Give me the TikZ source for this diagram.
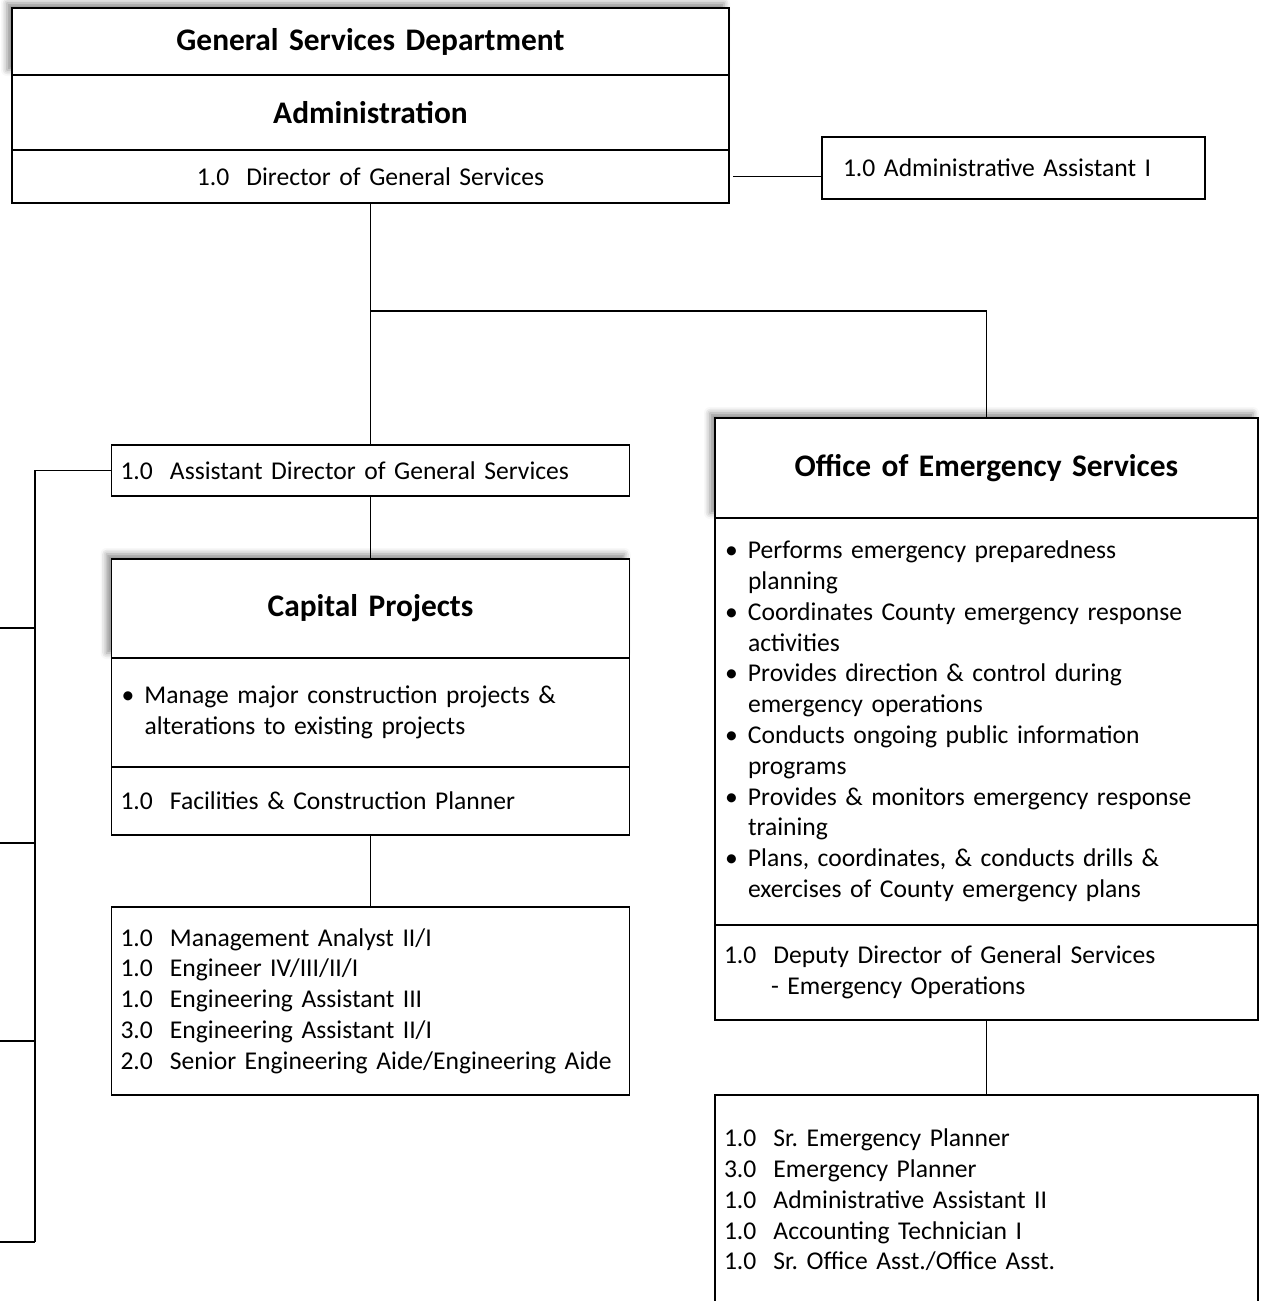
\documentclass[tikz,border=0pt]{standalone}
\usepackage{fontspec}
\setmainfont{Carlito}
\usetikzlibrary{positioning}
\usetikzlibrary{shadows.blur}
\frenchspacing

\newcommand{\titlefont}{\bfseries\fontsize{31.4}{38}\selectfont}
\newcommand{\bodyfont}{\fontsize{25.6}{30.8}\selectfont}
\newcommand{\bul}[2]{\makebox[24pt][l]{\hspace{1pt}\textbullet}#1\\\hspace*{24pt}#2}

\tikzset{
  cell/.style={draw, line width=1.4pt, fill=white, inner xsep=9pt, inner ysep=0pt, outer sep=0pt, font=\bodyfont, align=left},
  headcell/.style={cell, font=\titlefont, align=center},
  shade/.style={blur shadow={shadow xshift=-5pt, shadow yshift=5pt, shadow blur radius=6pt, shadow opacity=45}},
  link/.style={line width=1.4pt}
}

\begin{document}
\begin{tikzpicture}[x=1pt, y=-1pt]
\useasboundingbox (0,0) rectangle (1262,1301);
% administration
\node[headcell, shade, text width=699pt, minimum height=67pt] (gsd) at (370.5,41.5) {General Services Department};
\node[headcell, text width=699pt, minimum height=75pt, below=0pt of gsd] (admin) {Administration};
\node[cell, align=center, text width=699pt, minimum height=53pt, below=0pt of admin] (dir) {1.0~~Director of General Services};
\node[cell, inner xsep=21pt, text width=341pt, minimum height=62pt] (aa) at (1013.5,168) {1.0 Administrative Assistant I};
\node[cell, text width=500pt, minimum height=51pt] (ad) at (370.5,470.5) {1.0~~Assistant Director of General Services};
% capital projects
\node[headcell, shade, text width=500pt, minimum height=99pt] (cp) at (370.5,608.5) {Capital Projects};
\node[cell, text width=500pt, minimum height=109pt, below=0pt of cp] (cpduty) {\bul{Manage major construction projects \&}{alterations to existing projects}};
\node[cell, text width=500pt, minimum height=68pt, below=0pt of cpduty] (cpplan) {1.0~~Facilities \& Construction Planner};
\node[cell, text width=500pt, minimum height=188pt] (cpstaff) at (370.5,1001) {1.0~~Management Analyst II/I\\1.0~~Engineer IV/III/II/I\\1.0~~Engineering Assistant III\\3.0~~Engineering Assistant II/I\\2.0~~Senior Engineering Aide/Engineering Aide};
% emergency services
\node[headcell, shade, text width=525pt, minimum height=100pt] (oes) at (986.5,468) {Office of Emergency Services};
\node[cell, text width=525pt, minimum height=407pt, below=0pt of oes] (oesduty) {\bul{Performs emergency preparedness}{planning}\\
  \bul{Coordinates County emergency response}{activities}\\
  \bul{Provides direction \& control during}{emergency operations}\\
  \bul{Conducts ongoing public information}{programs}\\
  \bul{Provides \& monitors emergency response}{training}\\
  \bul{Plans, coordinates, \& conducts drills \&}{exercises of County emergency plans}};
\node[cell, text width=525pt, minimum height=95pt, below=0pt of oesduty] (oesdep) {1.0~~Deputy Director of General Services\\\hspace*{47pt}- Emergency Operations};
\node[cell, text width=525pt, minimum height=210pt] (oesstaff) at (986.5,1200) {1.0~~Sr. Emergency Planner\\3.0~~Emergency Planner\\1.0~~Administrative Assistant II\\1.0~~Accounting Technician I\\1.0~~Sr. Office Asst./Office Asst.};
% connectors
\coordinate (split) at (dir.south |- 0,311);
\draw[link] (dir.south) -- (ad.north);
\draw[link] (split) -| (oes.north);
\draw[link] ([xshift=4pt]dir.east) -- (aa.west |- dir.east);
\draw[link] (ad.south) -- (cp.north);
\draw[link] (cpplan.south) -- (cpstaff.north);
\draw[link] (oesdep.south) -- (oesstaff.north);
\coordinate (rail) at (35,1242);
\draw[link] (ad.west) -| (rail);
\foreach \y [count=\i] in {628,843,1041,1242} {
  \coordinate (stub\i) at (0,\y);
  \draw[link] (stub\i) -- (stub\i -| rail);
}
\end{tikzpicture}
\end{document}
